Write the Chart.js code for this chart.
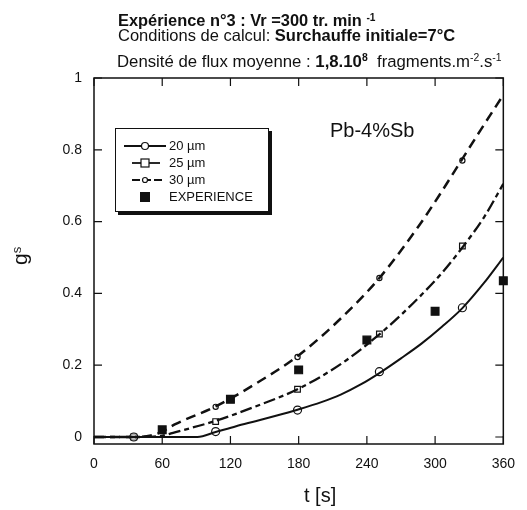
<!DOCTYPE html>
<html><head><meta charset="utf-8">
<script src="https://cdn.jsdelivr.net/npm/chart.js@4/dist/chart.umd.min.js"></script>
<style>
html,body{margin:0;padding:0;background:#fff;}
body{width:527px;height:510px;position:relative;overflow:hidden;font-family:"Liberation Sans",Arial,Helvetica,sans-serif;color:#111;}
#wrap{position:absolute;left:0;top:0;width:527px;height:510px;}
.t{position:absolute;white-space:nowrap;}
sup{font-size:62%;line-height:0;position:relative;top:-0.5em;vertical-align:baseline;}
#legend{position:absolute;left:115px;top:128px;width:152px;height:82px;border:1.5px solid #111;box-shadow:3px 3px 0 #111;background:#fff;}
#legend .row{position:absolute;left:0;height:16px;font-size:13px;line-height:16px;}
#legend svg{position:absolute;left:6px;top:0;}
#legend span{position:absolute;left:53px;top:0;white-space:nowrap;}
</style></head>
<body>
<div id="wrap"><canvas id="c" width="527" height="510"></canvas></div>
<div class="t" style="left:118px;top:11px;font-size:16.4px;font-weight:bold;">Expérience n°3 : Vr =300 tr. min <sup>-1</sup></div>
<div class="t" style="left:118px;top:26px;font-size:16.5px;">Conditions de calcul: <b>Surchauffe initiale=7°C</b></div>
<div class="t" style="left:117px;top:51.5px;font-size:16.75px;">Densité de flux moyenne : <b>1,8.10<sup>8</sup></b>&nbsp; fragments.m<sup>-2</sup>.s<sup>-1</sup></div>
<div class="t" style="left:330px;top:119px;font-size:20px;">Pb-4%Sb</div>
<div class="t" style="left:304px;top:484px;font-size:20px;">t [s]</div>
<div class="t" style="left:8px;top:265px;font-size:21px;transform:rotate(-90deg);transform-origin:0 0;">g<sup>s</sup></div>
<div id="legend">
  <div class="row" style="top:9px;"><svg width="46" height="16"><line x1="2" y1="8" x2="44" y2="8" stroke="#111" stroke-width="1.8"/><circle cx="23" cy="8" r="3.5" fill="#fff" stroke="#111" stroke-width="1.2"/></svg><span>20 µm</span></div>
  <div class="row" style="top:26px;"><svg width="46" height="16"><line x1="10" y1="8" x2="38" y2="8" stroke="#111" stroke-width="1.8"/><rect x="19" y="4" width="8" height="8" fill="#fff" stroke="#111" stroke-width="1.2"/></svg><span>25 µm</span></div>
  <div class="row" style="top:43px;"><svg width="46" height="16"><line x1="10" y1="8" x2="40" y2="8" stroke="#111" stroke-width="1.8" stroke-dasharray="8,3"/><circle cx="23" cy="8" r="2.5" fill="#fff" stroke="#111" stroke-width="1.2"/></svg><span>30 µm</span></div>
  <div class="row" style="top:60px;"><svg width="46" height="16"><rect x="18" y="3" width="10" height="10" fill="#111"/></svg><span>EXPERIENCE</span></div>
</div>
<script>
// ---- data ----
const t20 = [0, 35, 60, 91, 107, 125, 142, 160, 179, 200, 217, 235, 251, 270, 288, 306, 324, 343, 360];
const g20 = [0, 0, 0, 0, 0.014, 0.03, 0.044, 0.059, 0.076, 0.097, 0.118, 0.147, 0.178, 0.219, 0.26, 0.307, 0.359, 0.429, 0.5];
const t25 = [0, 35, 60, 71, 107, 142, 179, 217, 251, 271, 288, 306, 324, 343, 360];
const g25 = [0, 0, 0.004, 0.013, 0.045, 0.085, 0.133, 0.203, 0.286, 0.343, 0.396, 0.457, 0.528, 0.612, 0.705];
const t30 = [0, 35, 50, 60, 71, 107, 142, 179, 217, 251, 285, 303, 323, 340, 360];
const g30 = [0, 0, 0.004, 0.015, 0.035, 0.085, 0.148, 0.225, 0.33, 0.443, 0.585, 0.67, 0.77, 0.855, 0.953];
const tMarks = [35, 107, 179, 251, 324];
const m20 = [0, 0.015, 0.075, 0.182, 0.36];
const m25 = [0, 0.043, 0.133, 0.287, 0.532];
const m30 = [0, 0.084, 0.223, 0.443, 0.77];
const tExp = [60, 120, 180, 240, 300, 360];
const gExp = [0.02, 0.105, 0.187, 0.27, 0.35, 0.435];
const xTicks = [0, 60, 120, 180, 240, 300, 360];
const yTicks = [0, 0.2, 0.4, 0.6, 0.8, 1];

const pts = (xs, ys) => xs.map((x, i) => ({x: x, y: ys[i]}));
const INK = '#111';

const lineDs = (xs, ys, dash, w) => ({
  data: pts(xs, ys), showLine: true, borderColor: INK, borderWidth: w,
  borderDash: dash, pointRadius: 0, cubicInterpolationMode: 'monotone', fill: false
});
const markDs = (xs, ys, style, r, fillc) => ({
  data: pts(xs, ys), showLine: false, pointStyle: style, pointRadius: r,
  pointBackgroundColor: fillc, pointBorderColor: INK, pointBorderWidth: 1.2, clip: false
});

const framePlugin = {
  id: 'frame',
  afterDatasetsDraw(chart) {
    const {ctx, chartArea: a, scales: {x, y}} = chart;
    ctx.save();
    ctx.strokeStyle = INK; ctx.lineWidth = 1.5;
    ctx.strokeRect(a.left, a.top, a.right - a.left, a.bottom - a.top);
    ctx.lineWidth = 1.2;
    ctx.beginPath();
    xTicks.forEach(v => {
      const p = x.getPixelForValue(v);
      ctx.moveTo(p, a.bottom); ctx.lineTo(p, a.bottom - 8);
      ctx.moveTo(p, a.top); ctx.lineTo(p, a.top + 8);
    });
    yTicks.forEach(v => {
      const p = y.getPixelForValue(v);
      ctx.moveTo(a.left, p); ctx.lineTo(a.left + 8, p);
      ctx.moveTo(a.right, p); ctx.lineTo(a.right - 8, p);
    });
    ctx.stroke();
    ctx.restore();
  }
};

new Chart(document.getElementById('c'), {
  type: 'scatter',
  data: {
    datasets: [
      lineDs(t20, g20, [], 2),
      lineDs(t25, g25, [12, 4, 5, 4], 2.3),
      lineDs(t30, g30, [10, 6], 2.5),
      markDs(tMarks, m20, 'circle', 4, 'rgba(255,255,255,0.6)'),
      markDs(tMarks, m25, 'rect', 4, 'rgba(255,255,255,0.6)'),
      markDs(tMarks, m30, 'circle', 2.6, 'rgba(255,255,255,0.6)'),
      markDs(tExp, gExp, 'rect', 5.5, INK)
    ]
  },
  options: {
    responsive: false, animation: false,
    layout: {padding: {left: 0, top: 78, right: 13, bottom: 0}},
    plugins: {legend: {display: false}, tooltip: {enabled: false}},
    scales: {
      x: {
        type: 'linear', min: 0, max: 360,
        afterBuildTicks: s => { s.ticks = xTicks.map(v => ({value: v})); },
        afterFit: s => { s.height = 66; },
        grid: {display: false, drawTicks: false},
        border: {display: false},
        ticks: {padding: 12, color: INK, font: {family: 'Liberation Sans', size: 14}, maxRotation: 0, autoSkip: false}
      },
      y: {
        type: 'linear', min: -0.0195, max: 1,
        afterBuildTicks: s => { s.ticks = yTicks.map(v => ({value: v})); },
        afterFit: s => { s.width = 94; },
        grid: {display: false, drawTicks: false},
        border: {display: false},
        ticks: {padding: 12, color: INK, font: {family: 'Liberation Sans', size: 14}, autoSkip: false,
          callback: v => String(v)}
      }
    }
  },
  plugins: [framePlugin]
});
</script>
</body></html>
